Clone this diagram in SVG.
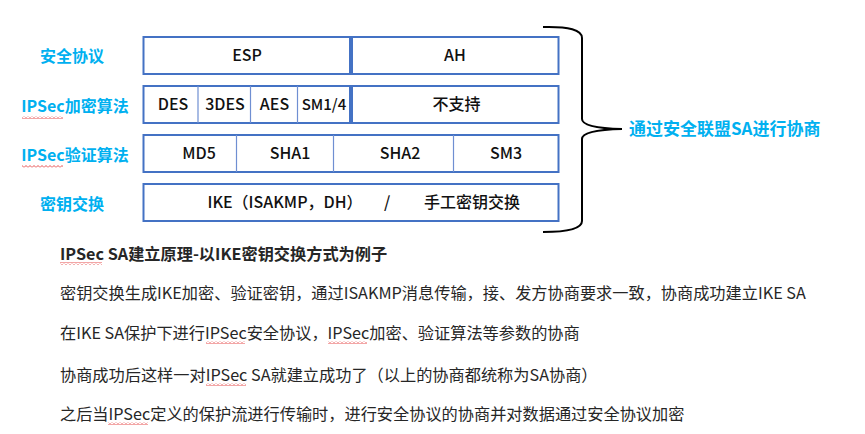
<svg xmlns="http://www.w3.org/2000/svg" width="865" height="434" viewBox="0 0 865 434">
<defs>
<style>
.lbl{font-family:"Noto Sans CJK SC","Noto Sans",sans-serif;font-size:16px;font-weight:bold;fill:#00B0F0;text-anchor:middle}
.cell{fill:#fff;stroke:#4472C4;stroke-width:2}
.div{stroke:#6F8FD2;stroke-width:1.2}
.thick{stroke:#4472C4;stroke-width:4}
.t{font-family:"Noto Sans CJK SC","Noto Sans",sans-serif;font-size:16px;font-weight:500;fill:#111;text-anchor:middle}
.body{font-family:"Noto Sans CJK SC","Noto Sans",sans-serif;font-size:16.2px;fill:#262626}
.sq{fill:url(#wave)}
</style>
<pattern id="wave" patternUnits="userSpaceOnUse" width="4" height="3">
<path d="M0,2.5 L2,0.5 L4,2.5" fill="none" stroke="#E02020" stroke-width="0.8"/>
</pattern>
</defs>
<rect width="865" height="434" fill="#fff"/>
<g id="labels">
<text class="lbl" x="72" y="62">安全协议</text>
<text class="lbl" x="75" y="112">IPSec加密算法</text>
<text class="lbl" x="75" y="161">IPSec验证算法</text>
<text class="lbl" x="72" y="210">密钥交换</text>
</g>
<g id="row-protocol">
<rect class="cell" x="143.5" y="37" width="415" height="37"/>
<line class="thick" x1="351" y1="37" x2="351" y2="74"/>
<text class="t" x="247" y="61">ESP</text>
<text class="t" x="455" y="61">AH</text>
</g>
<g id="row-encrypt">
<rect class="cell" x="143.5" y="86" width="415" height="37"/>
<line class="div" x1="198" y1="86" x2="198" y2="123"/>
<line class="div" x1="250.5" y1="86" x2="250.5" y2="123"/>
<line class="div" x1="297.5" y1="86" x2="297.5" y2="123"/>
<line class="thick" x1="351" y1="86" x2="351" y2="123"/>
<text class="t" x="173" y="110">DES</text>
<text class="t" x="225" y="110">3DES</text>
<text class="t" x="274.5" y="110">AES</text>
<text class="t" x="324" y="110" style="font-size:15px">SM1/4</text>
<text class="t" x="456.5" y="110">不支持</text>
</g>
<g id="row-auth">
<rect class="cell" x="143.5" y="135" width="415" height="37"/>
<line class="div" x1="236.5" y1="135" x2="236.5" y2="172"/>
<line class="div" x1="333.5" y1="135" x2="333.5" y2="172"/>
<line class="div" x1="453.5" y1="135" x2="453.5" y2="172"/>
<text class="t" x="199" y="159">MD5</text>
<text class="t" x="290" y="159">SHA1</text>
<text class="t" x="400" y="159">SHA2</text>
<text class="t" x="506" y="159">SM3</text>
</g>
<g id="row-key">
<rect class="cell" x="143.5" y="184" width="415" height="37"/>
<text class="t" x="285" y="208">IKE（ISAKMP，DH）</text>
<text class="t" x="387" y="208">/</text>
<text class="t" x="472" y="208">手工密钥交换</text>
</g>
<g id="connectors">
<path d="M543,27 Q582,26 582,38 L582,119 Q582,128 622,129 Q582,130 582,139 L582,221 Q582,232 543,232" fill="none" stroke="#000" stroke-width="2"/>
</g>
<g id="brace-label">
<text class="lbl" x="629" y="135" style="text-anchor:start;font-size:17px">通过安全联盟SA进行协商</text>
</g>
<g id="description">
<text class="body" x="60" y="260" font-weight="bold" fill="#111">IPSec SA建立原理-以IKE密钥交换方式为例子</text>
<text class="body" x="60" y="299">密钥交换生成IKE加密、验证密钥，通过ISAKMP消息传输，接、发方协商要求一致，协商成功建立IKE SA</text>
<text class="body" x="60" y="339">在IKE SA保护下进行IPSec安全协议，IPSec加密、验证算法等参数的协商</text>
<text class="body" x="60" y="381">协商成功后这样一对IPSec SA就建立成功了（以上的协商都统称为SA协商）</text>
<text class="body" x="60" y="420">之后当IPSec定义的保护流进行传输时，进行安全协议的协商并对数据通过安全协议加密</text>
</g>
<g id="squiggles">
<rect class="sq" x="22" y="116" width="41" height="3"/>
<rect class="sq" x="22" y="165" width="41" height="3"/>
<rect class="sq" x="60" y="262" width="42" height="3"/>
<rect class="sq" x="206" y="341" width="39" height="3"/>
<rect class="sq" x="328" y="341" width="39" height="3"/>
<rect class="sq" x="206" y="383" width="40" height="3"/>
<rect class="sq" x="108" y="422" width="40" height="3"/>
</g>
</svg>
